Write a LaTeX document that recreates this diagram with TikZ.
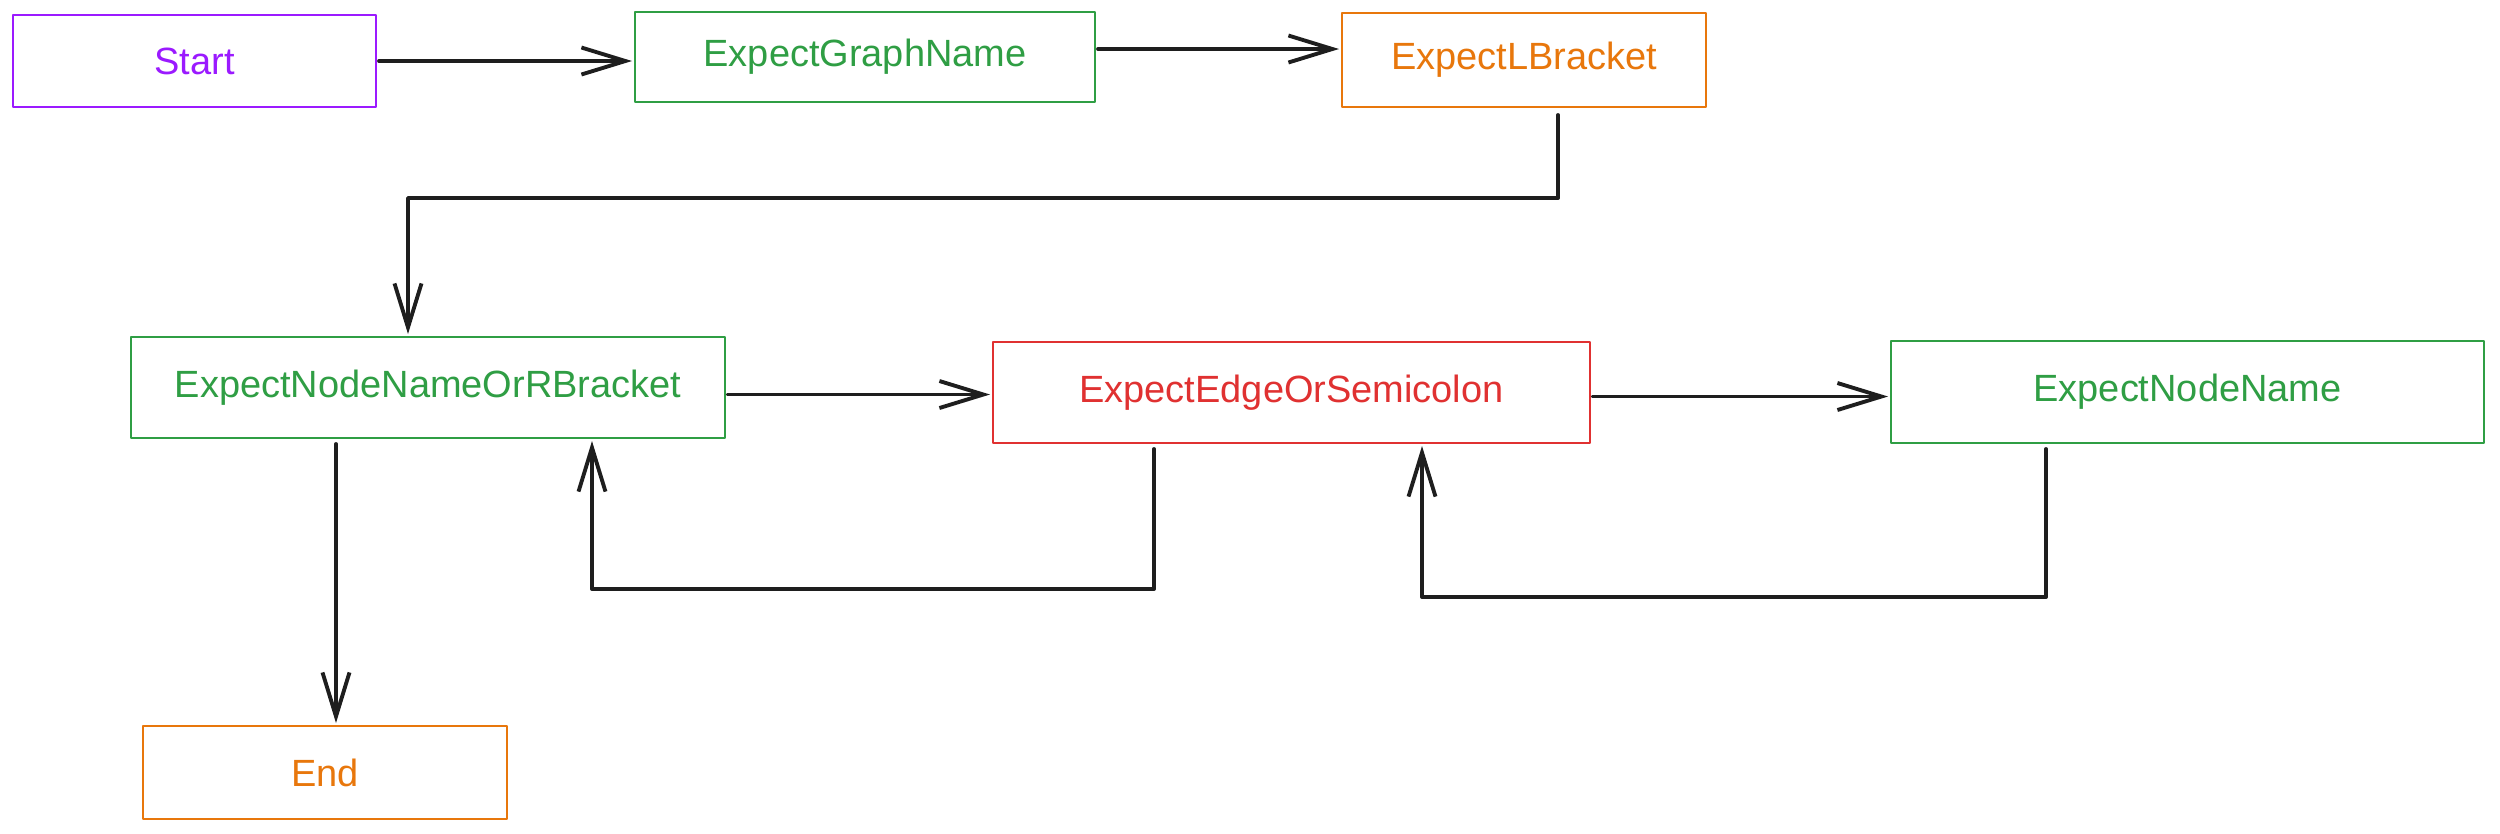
\documentclass[tikz,border=0pt]{standalone}
\usepackage{fontspec}
\setmainfont{Liberation Sans}
\usetikzlibrary{arrows.meta}
\definecolor{cpurple}{HTML}{9B1AFF}
\definecolor{cgreen}{HTML}{2F9E44}
\definecolor{corange}{HTML}{E8770C}
\definecolor{cred}{HTML}{E03131}
\definecolor{cink}{HTML}{1E1E1E}
\tikzset{
  statebox/.style={draw=#1, text=#1, line width=0.7pt, rectangle, inner sep=0pt,
    outer sep=0.03cm, font=\fontsize{10.8pt}{13pt}\selectfont, line join=round},
  arr/.style={draw=cink, line width=1.1pt, line cap=round, line join=round,
    -{Straight Barb[length=0.44cm,width=0.27cm,line width=1.1pt]}},
}
\begin{document}
\begin{tikzpicture}
\useasboundingbox[fill=white] (0,0) rectangle (25,-8.33);
\node[statebox=cpurple, minimum width=3.63cm, minimum height=0.92cm] (start) at (1.945,-0.61) {Start};
\node[statebox=cgreen, minimum width=4.60cm, minimum height=0.90cm] (gname) at (8.65,-0.57) {ExpectGraphName};
\node[statebox=corange, minimum width=3.64cm, minimum height=0.94cm] (lbr) at (15.24,-0.60) {ExpectLBracket};
\node[statebox=cgreen, minimum width=5.94cm, minimum height=1.01cm] (nnorb) at (4.28,-3.875) {ExpectNodeNameOrRBracket};
\node[statebox=cred, minimum width=5.97cm, minimum height=1.01cm] (eos) at (12.915,-3.925) {ExpectEdgeOrSemicolon};
\node[statebox=cgreen, minimum width=5.93cm, minimum height=1.02cm] (nname) at (21.875,-3.92) {ExpectNodeName};
\node[statebox=corange, minimum width=3.64cm, minimum height=0.93cm] (endn) at (3.25,-7.725) {End};

\draw[arr] (start.east) -- (start.east -| gname.west);
\draw[arr] ([yshift=0.08cm]gname.east) -- ([yshift=0.08cm]gname.east -| lbr.west);
\draw[arr] ([xshift=0.34cm,yshift=-0.05cm]lbr.south) -- ++(0,-0.83) -| ([xshift=-0.20cm]nnorb.north);
\draw[arr] ([yshift=-0.07cm]nnorb.east) -- ([yshift=-0.07cm]nnorb.east -| eos.west);
\draw[arr] ([xshift=-1.375cm,yshift=-0.03cm]eos.south) -- ++(0,-1.40) -| ([xshift=1.64cm]nnorb.south);
\draw[arr] ([yshift=-0.04cm]eos.east) -- ([yshift=-0.04cm]eos.east -| nname.west);
\draw[arr] ([xshift=-1.415cm,yshift=-0.03cm]nname.south) -- ++(0,-1.48) -| ([xshift=1.305cm]eos.south);
\draw[arr] ([xshift=-0.92cm,yshift=-0.03cm]nnorb.south) -- ([xshift=-0.92cm]nnorb.south |- endn.north);
\end{tikzpicture}
\end{document}
